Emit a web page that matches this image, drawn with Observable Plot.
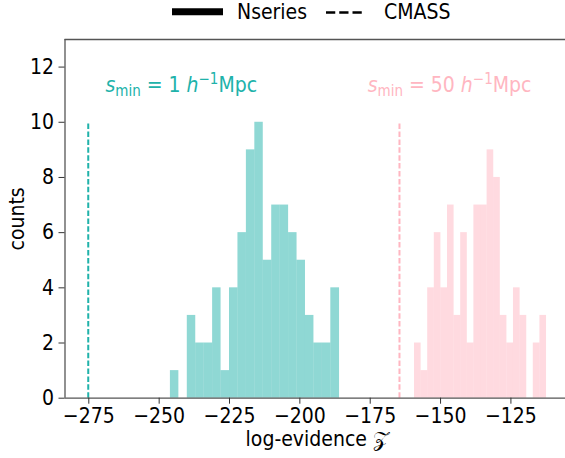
<!DOCTYPE html>
<html><head><meta charset="utf-8">
<script src="https://cdn.jsdelivr.net/npm/d3@7"></script>
<script src="https://cdn.jsdelivr.net/npm/@observablehq/plot@0.6"></script>
<style>
body{margin:0;background:#fff;}
svg{display:block;}
svg text{font-family:'DejaVu Sans Condensed','DejaVu Sans',sans-serif;font-stretch:condensed;}
</style></head><body>
<div id="chart"></div>
<script>
// Nseries histogram, s_min = 1 h^-1 Mpc (bin edges and counts)
const smin1Edges = [-246.0, -243.0, -240.0, -237.0, -234.0, -231.0, -228.0, -225.0, -222.0, -219.0, -216.0,
                    -213.0, -210.0, -207.0, -204.0, -201.0, -198.0, -195.0, -192.0, -189.0, -185.9];
const smin1Counts = [1, 0, 3, 2, 2, 4, 1, 4, 6, 9, 10, 5, 7, 7, 6, 5, 3, 2, 2, 4];
// Nseries histogram, s_min = 50 h^-1 Mpc
const smin50Edges = [-159.26, -156.91, -154.57, -152.22, -149.88, -147.53, -145.19, -142.84, -140.49, -138.15, -135.80,
                     -133.46, -131.11, -128.77, -126.42, -124.08, -121.73, -119.38, -117.04, -114.69, -112.35];
const smin50Counts = [2, 1, 4, 6, 4, 7, 3, 6, 2, 7, 7, 9, 8, 3, 2, 4, 3, 0, 2, 3];
// CMASS log-evidence (dashed lines) for the two s_min values
const cmassEvidence = [-275.2, -164.6];
const cmassLineTop = 10;
const sminValues = ["1", "50"];
const seriesColors = ["lightseagreen", "lightpink"];
const annoX = [-269.1, -175.9];
const annoY = [11.08, 11.08];
const xTicks = [-275, -250, -225, -200, -175, -150, -125];
const yTicks = [0, 2, 4, 6, 8, 10, 12];
const xDomain = [-283.46, -105.6];
const yDomain = [0, 13];
const xLabel = "log-evidence 𝒵";
const yLabel = "counts";
const legendLabels = ["Nseries", "CMASS"];

const FONT = "'DejaVu Sans Condensed','DejaVu Sans',sans-serif";
const spine = "#555";

const toRows = (edges, counts, color) => counts.map((c, i) => ({x1: edges[i], x2: edges[i + 1], y: c, color}));
const rows1 = toRows(smin1Edges, smin1Counts, seriesColors[0]);
const rows50 = toRows(smin50Edges, smin50Counts, seriesColors[1]);
const cmassRows = cmassEvidence.map((x, i) => ({x, top: cmassLineTop, color: seriesColors[i]}));
const annoRows = sminValues.map((v, i) => ({x: annoX[i], y: annoY[i], v, color: seriesColors[i]}));

// Legend (above the plot)
const leg = d3.create("svg").attr("width", 565).attr("height", 28)
  .style("font-family", FONT).style("font-size", "21px");
leg.append("line").attr("x1", 172).attr("x2", 223).attr("y1", 11.8).attr("y2", 11.8)
  .attr("stroke", "black").attr("stroke-width", 7);
leg.append("text").attr("x", 237).attr("y", 19.3).text(legendLabels[0]);
leg.append("line").attr("x1", 326).attr("x2", 364).attr("y1", 12.5).attr("y2", 12.5)
  .attr("stroke", "black").attr("stroke-width", 2.5).attr("stroke-dasharray", "9.25,4");
leg.append("text").attr("x", 384).attr("y", 19.3).text(legendLabels[1]);
document.getElementById("chart").append(leg.node());

const plot = Plot.plot({
  width: 565, height: 430,
  marginTop: 11, marginBottom: 60.3, marginLeft: 64.5, marginRight: 0,
  style: {fontFamily: FONT, fontSize: "21px", color: "black", background: "white", overflow: "visible"},
  x: {domain: xDomain},
  y: {domain: yDomain},
  marks: [
    Plot.rect(rows1, {x1: "x1", x2: "x2", y1: 0, y2: "y", fill: "color", fillOpacity: 0.5}),
    Plot.rect(rows50, {x1: "x1", x2: "x2", y1: 0, y2: "y", fill: "color", fillOpacity: 0.5}),
    Plot.ruleX(cmassRows, {x: "x", y1: 0, y2: "top", stroke: "color", strokeWidth: 2, strokeDasharray: "5.5,2.4"}),
    Plot.text(annoRows, {x: "x", y: "y", text: "v", fill: "color", textAnchor: "start", lineAnchor: "bottom", fontSize: 21}),
    Plot.ruleY([yDomain[1]], {stroke: spine, strokeWidth: 1.3}),
    Plot.ruleY([yDomain[0]], {stroke: spine, strokeWidth: 1.3}),
    Plot.ruleX([xDomain[0]], {stroke: spine, strokeWidth: 1.3}),
    Plot.axisX({ticks: xTicks, tickSize: 6, tickPadding: 4, label: null, stroke: "#333", fill: "black", fontSize: 21}),
    Plot.axisY({ticks: yTicks, tickSize: 6, tickPadding: 5, label: null, stroke: "#333", fill: "black", fontSize: 21}),
    Plot.text([xLabel], {frameAnchor: "bottom", textAnchor: "middle", lineAnchor: "bottom", dy: 47.3, dx: 2, fill: "black", fontSize: 21}),
    Plot.text([yLabel], {frameAnchor: "left", textAnchor: "middle", lineAnchor: "bottom", rotate: -90, dx: -41.5, fill: "black", fontSize: 21})
  ]
});
document.getElementById("chart").append(plot);

// rich text for the s_min annotations
d3.select(plot).selectAll("text")
  .filter(function() { return seriesColors.includes(this.getAttribute("fill")) && sminValues.includes(this.textContent); })
  .each(function() {
    const el = d3.select(this);
    const v = this.textContent;
    el.text(null);
    el.append("tspan").attr("font-style", "italic").text("s");
    el.append("tspan").attr("font-size", "15px").attr("dy", 4).text("min");
    el.append("tspan").attr("dy", -4).text(" = " + v + " ");
    el.append("tspan").attr("font-style", "italic").text("h");
    el.append("tspan").attr("font-size", "15px").attr("dy", -8).text("\u22121");
    el.append("tspan").attr("dy", 8).text("Mpc");
  });
</script>
</body></html>
